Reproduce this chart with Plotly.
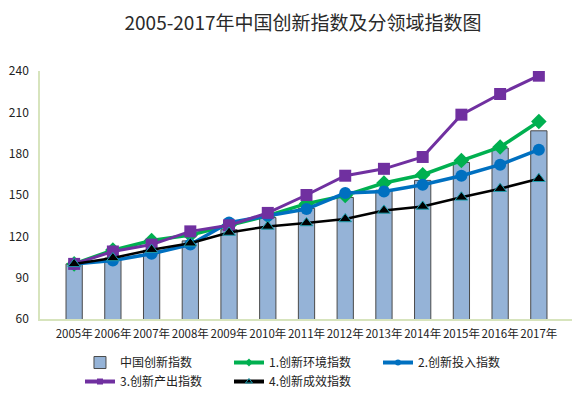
import plotly.graph_objects as go

years = ["2005年", "2006年", "2007年", "2008年", "2009年", "2010年", "2011年",
         "2012年", "2013年", "2014年", "2015年", "2016年", "2017年"]
china_index = [100, 104.3, 109.9, 116.7, 124.8, 133.6, 140.3, 148.2, 153.5, 160.6, 173.6, 184.1, 196.6]
env_index = [100, 110, 117, 121, 128, 135, 143.7, 149.7, 158.7, 164.7, 175, 184.8, 203.4]
input_index = [100, 102.5, 107.4, 114, 130, 135, 139.8, 151.4, 152.6, 157.5, 164, 172, 182.9]
output_index = [100, 109, 114, 123.6, 128, 137, 150, 164, 169, 177.6, 208.3, 223.3, 236.6]
effect_index = [100, 104.3, 110.3, 115, 122.8, 127.2, 129.7, 132.6, 138.8, 141.7, 148.3, 154.6, 161.8]
y_ticks = [60, 90, 120, 150, 180, 210, 240]

names = ["中国创新指数", "1.创新环境指数", "2.创新投入指数", "3.创新产出指数", "4.创新成效指数"]

font = "Noto Sans CJK SC, Liberation Sans, sans-serif"

line_specs = [
    (env_index, names[1], "#00B050", 3.5, "diamond", 12, None),
    (input_index, names[2], "#0070C0", 3.5, "circle", 12, None),
    (output_index, names[3], "#7030A0", 3, "square", 12, None),
    (effect_index, names[4], "#000000", 2.5, "triangle-up", 11, "#1f9fb0"),
]

fig = go.Figure()
fig.add_trace(go.Bar(
    x=years, y=china_index, name=names[0], width=0.42,
    marker=dict(color="#95B3D7", line=dict(color="#4a4a4a", width=1)),
    legendrank=1,
))
for i, (vals, nm, col, lw, sym, sz, mlc) in enumerate(line_specs):
    mline = dict(color=mlc, width=1) if mlc else dict(width=0)
    fig.add_trace(go.Scatter(
        x=years, y=vals, name=nm, mode="lines+markers", showlegend=False,
        line=dict(color=col, width=lw),
        marker=dict(symbol=sym, size=sz, color=col, line=mline),
    ))
    # legend-only entry with small marker
    fig.add_trace(go.Scatter(
        x=[None], y=[None], name=nm, mode="lines+markers",
        line=dict(color=col, width=4),
        marker=dict(symbol=sym, size=6, color=col, line=mline),
        legendrank=i + 2,
    ))

# page body has an 8px default margin, so the figure is offset by 8px
fig.update_layout(
    width=572, height=386,
    margin=dict(l=32, r=7, t=63, b=75, autoexpand=False),
    paper_bgcolor="white", plot_bgcolor="white",
    font=dict(family=font, size=12, color="#222222"),
    title=dict(text="2005-2017年中国创新指数及分领域指数图", x=295 / 572, xanchor="center",
               y=1 - 15 / 386, yanchor="middle",
               font=dict(family=font, size=19, color="#2a2a2a")),
    showlegend=True,
    legend=dict(orientation="h", x=0.075, xanchor="left", y=-0.117, yanchor="top",
                entrywidth=104, entrywidthmode="pixels",
                font=dict(family=font, size=12, color="#222222"),
                itemwidth=30, tracegroupgap=0, bgcolor="rgba(0,0,0,0)",
                traceorder="normal"),
    bargap=0.5,
)
fig.update_xaxes(showline=True, linecolor="#d7e4bd", linewidth=1.5, showgrid=False,
                 ticks="", tickfont=dict(size=11.5), tickangle=0, automargin=False,
                 ticklabelstandoff=3)
fig.update_yaxes(range=[60, 240], tickvals=y_ticks, showline=True, linecolor="#d7e4bd",
                 linewidth=1.5, showgrid=False, zeroline=False, ticks="",
                 tickfont=dict(size=12), automargin=False, ticklabelstandoff=7)

fig.write_html("out.html")
